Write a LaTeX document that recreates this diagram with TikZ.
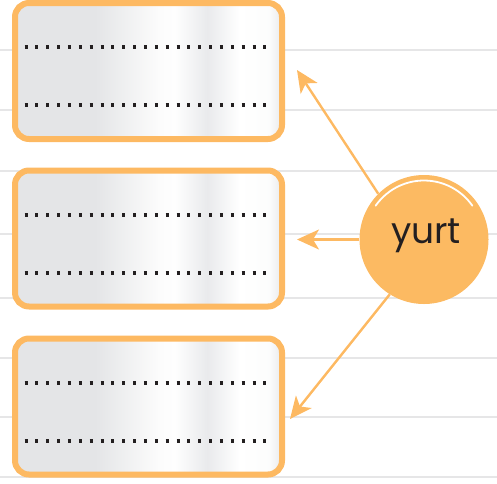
\documentclass[tikz,border=0pt]{standalone}
\usepackage{fontspec}
\newfontfamily\yurtfont{Poppins}
\usetikzlibrary{arrows.meta}
\definecolor{orbd}{RGB}{253,185,98}
\definecolor{orfill}{RGB}{252,186,98}
\definecolor{rule}{RGB}{230,230,231}
\definecolor{g1}{RGB}{228,229,231}
\definecolor{g2}{RGB}{233,234,236}
\definecolor{w1}{RGB}{252,252,252}
\definecolor{dotc}{RGB}{35,31,32}
\pgfdeclarehorizontalshading{boxshade}{100bp}{color(0bp)=(g1); color(25bp)=(g1); color(40bp)=(g1); color(52bp)=(w1); color(55bp)=(white!96!g1); color(61bp)=(g2); color(67bp)=(white); color(72.5bp)=(white!90!g1); color(75bp)=(g2); color(100bp)=(g2)}
\tikzset{
  wbox/.style={draw=orbd, line width=6pt, rounded corners=14pt, shading=boxshade,
    minimum width=267pt, minimum height=136pt, inner sep=0pt},
  dotline/.style={dotc, line width=4pt, dash pattern=on 3pt off 7.86pt},
  ruleline/.style={rule, line width=2.2pt},
  arr/.style={orbd, line width=2.4pt, -{Stealth[length=22pt 0 0,width=20pt 0 0,inset=6pt 0 0]}},
}
\begin{document}
\begin{tikzpicture}[x=1pt,y=-1pt]
\useasboundingbox (0,0) rectangle (497,483);
% ruled lines
\foreach \yy in {50,110,171,234,298,358,417,477}
  \draw[ruleline] (0,\yy) -- (497,\yy);
% boxes
\node[wbox] (b1) at (148.5,71) {};
\node[wbox] (b2) at (148.5,238.5) {};
\node[wbox] (b3) at (148.5,406.5) {};
% dotted answer lines
\foreach \bx in {b1,b2,b3}{
  \draw[dotline] ([xshift=12.5pt,yshift=24pt]\bx.west) -- ([xshift=-12pt,yshift=24pt]\bx.east);
  \draw[dotline] ([xshift=12.5pt,yshift=-34pt]\bx.west) -- ([xshift=-12pt,yshift=-34pt]\bx.east);
}
% circle
\node[circle, fill=orfill, minimum size=129pt, inner sep=0pt] (c) at (424,239.5) {};
\node[text=dotc, font=\yurtfont\fontsize{36}{36}\selectfont] (t) at (426,236) {yurt};
\draw[white, line width=1.8pt, line cap=round] (424,239.5) ++(215:59) arc[start angle=215, end angle=325, radius=59];
% targets
\coordinate (t1) at (297,70);
\coordinate (t2) at (297,239.5);
\coordinate (t3) at (290,419);
\draw[arr] (c.135) -- (t1);
\draw[arr] (c.west) -- (t2);
\draw[arr] (c.238) -- (t3);
\end{tikzpicture}
\end{document}
